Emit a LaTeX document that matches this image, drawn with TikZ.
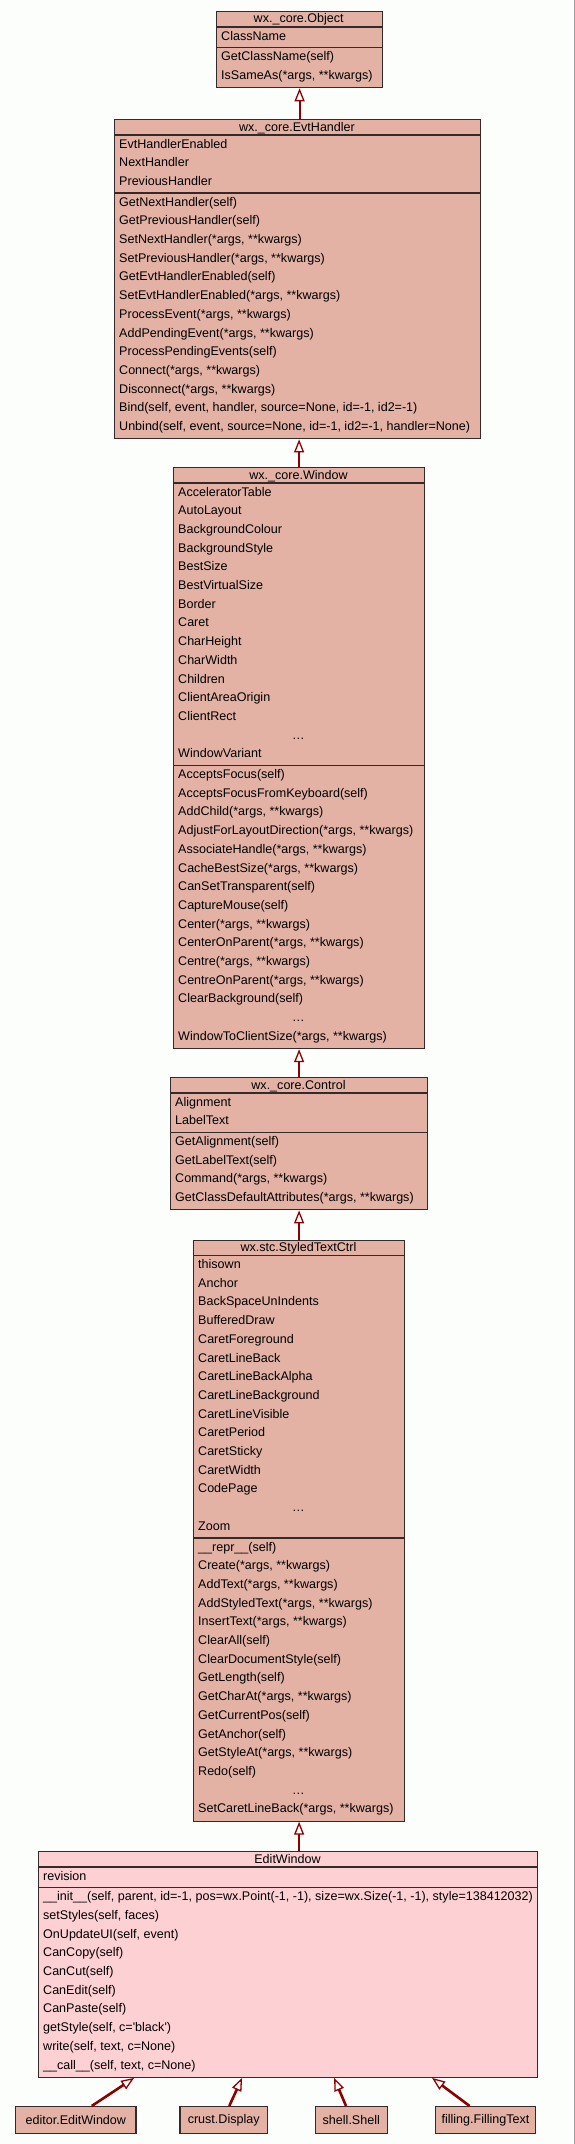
\documentclass[tikz,border=0pt]{standalone}
\usepackage{fontspec}
\setmainfont{Liberation Sans}
\usepackage{xcolor}
\definecolor{umlsalmon}{RGB}{227,178,165}
\definecolor{umlpink}{RGB}{253,208,211}
\definecolor{umledge}{RGB}{139,0,0}
\definecolor{umlborder}{RGB}{52,42,42}
\definecolor{umlbg}{RGB}{252,254,252}
\usepackage{tikz}
\usetikzlibrary{
    arrows.meta,
    positioning,
    calc
}

\begin{document}
\begin{tikzpicture}[x=1pt, y=-1pt,
    font=\fontsize{12.55}{15}\selectfont,
    classbox/.style={draw=umlborder, line width=1.2pt, fill=umlsalmon, inner sep=0pt, anchor=north west},
    leafbox/.style={draw=umlborder, line width=1.2pt, fill=umlsalmon, inner sep=0pt, minimum height=27pt},
    sepline/.style={draw=umlborder, line width=1.5pt},
    member/.style={anchor=base west, inner sep=0pt},
    clstitle/.style={anchor=base, inner sep=0pt},
    inherit/.style={draw=umledge, line width=2pt, -{Triangle[fill=white, length=13pt, width=10pt, line width=1.3pt]}},
    subinherit/.style={inherit, line width=2.6pt}
]
    \useasboundingbox (0,0) rectangle (575,2144);
    \fill[umlbg] (0,0) rectangle (575,2144);
    \draw[gray!75, line width=1pt] (574.5,0) -- (574.5,2144);

    % wx._core.Object
    \node[classbox, minimum width=166pt, minimum height=76.1pt] (object) at (216,11) {};
    \draw[sepline] ([yshift=-16pt]object.north west) -- ([yshift=-16pt]object.north east);
    \draw[sepline] ([yshift=-36.7pt]object.north west) -- ([yshift=-36.7pt]object.north east);
    \node[clstitle] (object-t) at (298.7,23) {wx.\_core.Object};
    \node[member] (object-a1) at (221,40) {ClassName};
    \foreach \m [count=\i] in {GetClassName(self), {IsSameAs(*args, **kwargs)}}
        \node[member] (object-m\i) at (221, {60.7+(\i-1)*18.7}) {\m};

    % wx._core.EvtHandler
    \node[classbox, minimum width=366pt, minimum height=319.2pt] (evt) at (114,119) {};
    \draw[sepline] ([yshift=-16pt]evt.north west) -- ([yshift=-16pt]evt.north east);
    \draw[sepline] ([yshift=-74.1pt]evt.north west) -- ([yshift=-74.1pt]evt.north east);
    \node[clstitle] (evt-t) at (297,131) {wx.\_core.EvtHandler};
    \foreach \a [count=\i] in {EvtHandlerEnabled, NextHandler, PreviousHandler}
        \node[member] (evt-a\i) at (119, {148+(\i-1)*18.7}) {\a};
    \foreach \m [count=\i] in {GetNextHandler(self), GetPreviousHandler(self),
        {SetNextHandler(*args, **kwargs)}, {SetPreviousHandler(*args, **kwargs)},
        GetEvtHandlerEnabled(self), {SetEvtHandlerEnabled(*args, **kwargs)},
        {ProcessEvent(*args, **kwargs)}, {AddPendingEvent(*args, **kwargs)},
        ProcessPendingEvents(self), {Connect(*args, **kwargs)}, {Disconnect(*args, **kwargs)},
        {Bind(self, event, handler, source=None, id=-1, id2=-1)},
        {Unbind(self, event, source=None, id=-1, id2=-1, handler=None)}}
        \node[member] (evt-m\i) at (119, {206.1+(\i-1)*18.7}) {\m};

    % wx._core.Window
    \node[classbox, minimum width=251pt, minimum height=581pt] (window) at (173,467) {};
    \draw[sepline] ([yshift=-16pt]window.north west) -- ([yshift=-16pt]window.north east);
    \draw[sepline] ([yshift=-298.5pt]window.north west) -- ([yshift=-298.5pt]window.north east);
    \node[clstitle] (window-t) at (298.5,479) {wx.\_core.Window};
    \foreach \a [count=\i] in {AcceleratorTable, AutoLayout, BackgroundColour, BackgroundStyle,
        BestSize, BestVirtualSize, Border, Caret, CharHeight, CharWidth, Children,
        ClientAreaOrigin, ClientRect}
        \node[member] (window-a\i) at (178, {496+(\i-1)*18.7}) {\a};
    \node[clstitle] (window-adots) at (298.5,739.1) {…};
    \node[member] (window-alast) at (178,757.8) {WindowVariant};
    \foreach \m [count=\i] in {AcceptsFocus(self), AcceptsFocusFromKeyboard(self),
        {AddChild(*args, **kwargs)}, {AdjustForLayoutDirection(*args, **kwargs)},
        {AssociateHandle(*args, **kwargs)}, {CacheBestSize(*args, **kwargs)},
        CanSetTransparent(self), CaptureMouse(self), {Center(*args, **kwargs)},
        {CenterOnParent(*args, **kwargs)}, {Centre(*args, **kwargs)},
        {CentreOnParent(*args, **kwargs)}, ClearBackground(self)}
        \node[member] (window-m\i) at (178, {778.5+(\i-1)*18.7}) {\m};
    \node[clstitle] (window-mdots) at (298.5,1021.6) {…};
    \node[member] (window-mlast) at (178,1040.3) {WindowToClientSize(*args, **kwargs)};

    % wx._core.Control
    \node[classbox, minimum width=257pt, minimum height=132.2pt] (control) at (170,1077) {};
    \draw[sepline] ([yshift=-16pt]control.north west) -- ([yshift=-16pt]control.north east);
    \draw[sepline] ([yshift=-55.4pt]control.north west) -- ([yshift=-55.4pt]control.north east);
    \node[clstitle] (control-t) at (298.5,1089) {wx.\_core.Control};
    \foreach \a [count=\i] in {Alignment, LabelText}
        \node[member] (control-a\i) at (175, {1106+(\i-1)*18.7}) {\a};
    \foreach \m [count=\i] in {GetAlignment(self), GetLabelText(self),
        {Command(*args, **kwargs)}, {GetClassDefaultAttributes(*args, **kwargs)}}
        \node[member] (control-m\i) at (175, {1145.4+(\i-1)*18.7}) {\m};

    % wx.stc.StyledTextCtrl
    \node[classbox, minimum width=211pt, minimum height=581pt] (styled) at (193,1239.5) {};
    \draw[sepline] ([yshift=-16pt]styled.north west) -- ([yshift=-16pt]styled.north east);
    \draw[sepline] ([yshift=-298.5pt]styled.north west) -- ([yshift=-298.5pt]styled.north east);
    \node[clstitle] (styled-t) at (298.5,1251.5) {wx.stc.StyledTextCtrl};
    \foreach \a [count=\i] in {thisown, Anchor, BackSpaceUnIndents, BufferedDraw,
        CaretForeground, CaretLineBack, CaretLineBackAlpha, CaretLineBackground,
        CaretLineVisible, CaretPeriod, CaretSticky, CaretWidth, CodePage}
        \node[member] (styled-a\i) at (198, {1268.5+(\i-1)*18.7}) {\a};
    \node[clstitle] (styled-adots) at (298.5,1511.6) {…};
    \node[member] (styled-alast) at (198,1530.3) {Zoom};
    \foreach \m [count=\i] in {\_\_repr\_\_(self), {Create(*args, **kwargs)},
        {AddText(*args, **kwargs)}, {AddStyledText(*args, **kwargs)},
        {InsertText(*args, **kwargs)}, ClearAll(self), ClearDocumentStyle(self),
        GetLength(self), {GetCharAt(*args, **kwargs)}, GetCurrentPos(self),
        GetAnchor(self), {GetStyleAt(*args, **kwargs)}, Redo(self)}
        \node[member] (styled-m\i) at (198, {1551+(\i-1)*18.7}) {\m};
    \node[clstitle] (styled-mdots) at (298.5,1794.1) {…};
    \node[member] (styled-mlast) at (198,1812.8) {SetCaretLineBack(*args, **kwargs)};

    % EditWindow
    \node[classbox, fill=umlpink, minimum width=499pt, minimum height=225.7pt] (editwin) at (38,1851) {};
    \draw[sepline] ([yshift=-16pt]editwin.north west) -- ([yshift=-16pt]editwin.north east);
    \draw[sepline] ([yshift=-36.7pt]editwin.north west) -- ([yshift=-36.7pt]editwin.north east);
    \node[clstitle] (editwin-t) at (287.5,1863) {EditWindow};
    \node[member] (editwin-a1) at (43,1880) {revision};
    \foreach \m [count=\i] in {{\_\_init\_\_(self, parent, id=-1, pos=wx.Point(-1, -1), size=wx.Size(-1, -1), style=138412032)},
        {setStyles(self, faces)}, {OnUpdateUI(self, event)}, CanCopy(self), CanCut(self),
        CanEdit(self), CanPaste(self), {getStyle(self, c=\textquotesingle black\textquotesingle)},
        {write(self, text, c=None)}, {\_\_call\_\_(self, text, c=None)}}
        \node[member] (editwin-m\i) at (43, {1900.7+(\i-1)*18.7}) {\m};

    % subclasses
    \node[leafbox, minimum width=120.3pt] (editor) at (75.8,2120) {editor.EditWindow};
    \node[leafbox, minimum width=87.3pt] (crust) at (223.7,2120) {crust.Display};
    \node[leafbox, minimum width=72pt] (shell) at (351.3,2120) {shell.Shell};
    \node[leafbox, minimum width=100.4pt] (filling) at (485.5,2120) {filling.FillingText};

    % inheritance
    \draw[inherit] (evt.north -| object.south) -- (object.south);
    \draw[inherit] (window.north) -- (window.north |- evt.south);
    \draw[inherit] (control.north) -- (control.north |- window.south);
    \draw[inherit] (styled.north) -- (styled.north |- control.south);
    \draw[inherit] (editwin.north -| styled.south) -- (styled.south);
    \draw[subinherit] ([xshift=16pt]editor.north) -- ([xshift=-154pt]editwin.south);
    \draw[subinherit] ([xshift=5.6pt]crust.north) -- ([xshift=-46pt]editwin.south);
    \draw[subinherit] ([xshift=-5.3pt]shell.north) -- ([xshift=46pt]editwin.south);
    \draw[subinherit] ([xshift=-16pt]filling.north) -- ([xshift=144pt]editwin.south);
\end{tikzpicture}
\end{document}
